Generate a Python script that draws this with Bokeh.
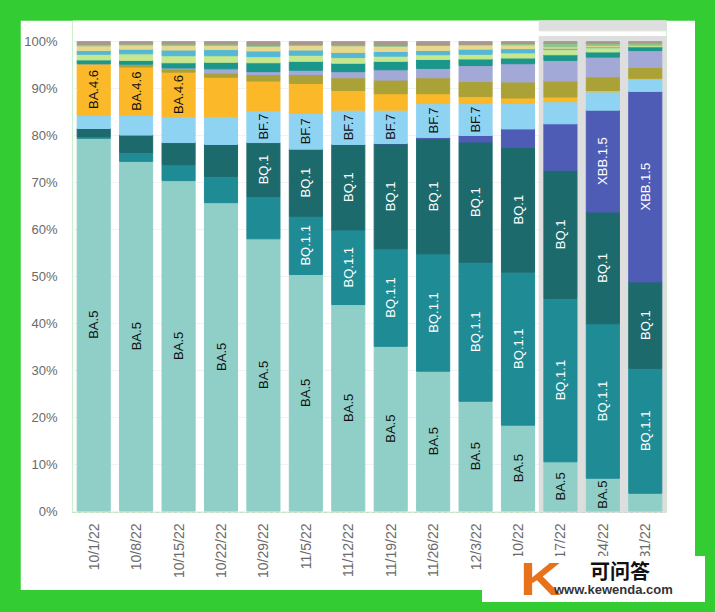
import numpy as np
from bokeh.plotting import figure
from bokeh.layouts import column
from bokeh.models import (ColumnDataSource, FactorRange, Range1d, Div,
                          FixedTicker, GlobalInlineStyleSheet)
from bokeh.core.properties import value
from bokeh.embed import file_html
from bokeh.resources import INLINE

weeks = ["10/1/22", "10/8/22", "10/15/22", "10/22/22", "10/29/22", "11/5/22", "11/12/22",
         "11/19/22", "11/26/22", "12/3/22", "12/10/22", "12/17/22", "12/24/22", "12/31/22"]

# lineage shares (%) per week, stacked bottom -> top
ba5    = [79.4, 74.5, 70.4, 65.7, 58.0, 50.4, 44.0, 35.1, 29.8, 23.4, 18.3, 10.5, 7.0, 3.8]
bq11   = [0.4, 1.9, 3.4, 5.6, 9.0, 12.4, 15.9, 20.8, 25.0, 29.6, 32.6, 34.8, 32.9, 26.6]
bq1    = [1.7, 3.7, 4.7, 6.8, 11.5, 14.3, 18.2, 22.3, 24.5, 25.6, 26.6, 27.3, 23.8, 18.4]
xbb15  = [0.0, 0.0, 0.0, 0.0, 0.0, 0.0, 0.0, 0.1, 0.3, 1.4, 3.9, 9.9, 21.7, 40.6]
bf7    = [2.8, 4.2, 5.5, 5.9, 6.8, 7.6, 7.3, 7.1, 7.2, 6.8, 5.4, 4.7, 3.9, 2.6]
ba46   = [11.0, 10.3, 9.5, 8.4, 6.3, 6.4, 4.2, 3.5, 2.1, 1.5, 1.2, 1.0, 0.3, 0.2]
bn1    = [0.0, 0.6, 0.7, 0.9, 1.4, 1.9, 2.7, 2.9, 3.4, 3.2, 3.4, 3.4, 2.9, 2.3]
xbb    = [0.0, 0.0, 0.2, 0.9, 0.6, 0.9, 1.3, 2.2, 2.0, 3.4, 3.9, 4.4, 4.2, 3.6]
ba275  = [0.8, 0.8, 1.1, 1.4, 1.9, 1.9, 1.8, 1.8, 1.9, 1.4, 1.2, 1.2, 1.1, 0.8]
ba2752 = [1.2, 1.4, 1.5, 1.4, 1.3, 1.3, 1.2, 1.1, 1.0, 1.0, 1.1, 1.1, 0.9, 0.3]
bf11   = [0.8, 1.0, 1.2, 1.3, 1.2, 1.1, 1.1, 1.0, 0.9, 1.1, 0.9, 0.3, 0.2, 0.1]
ba526  = [1.0, 0.9, 1.0, 0.9, 1.0, 1.0, 1.4, 1.1, 1.1, 0.9, 0.8, 0.3, 0.3, 0.1]
ch11   = [0.3, 0.2, 0.3, 0.3, 0.2, 0.2, 0.2, 0.2, 0.1, 0.1, 0.3, 0.7, 0.4, 0.3]
other  = [0.6, 0.5, 0.5, 0.5, 0.8, 0.6, 0.7, 0.8, 0.7, 0.6, 0.4, 0.4, 0.4, 0.3]

names = ["BA.5", "BQ.1.1", "BQ.1", "XBB.1.5", "BF.7", "BA.4.6", "BN.1", "XBB",
         "BA.2.75", "BA.2.75.2", "BF.11", "BA.5.2.6", "CH.1.1", "Other"]
series = [ba5, bq11, bq1, xbb15, bf7, ba46, bn1, xbb, ba275, ba2752, bf11, ba526, ch11, other]
colors = ["#8fcfc7", "#1f8b95", "#1d6a6c", "#4e5cb6", "#8fd3f2", "#fbb829", "#aaa237", "#a3a9d7",
          "#1a968a", "#c6e68f", "#54b8d4", "#e6d88c", "#8cc58c", "#a7998f"]

# which weeks carry an in-bar label
label_weeks = {
    "BA.5": weeks[:13],
    "BQ.1.1": weeks[5:],
    "BQ.1": weeks[4:],
    "XBB.1.5": weeks[12:],
    "BF.7": weeks[4:10],
    "BA.4.6": weeks[:3],
}
label_colors = {"BA.5": "#111111", "BQ.1.1": "white", "BQ.1": "white", "XBB.1.5": "white",
                "BF.7": "#111111", "BA.4.6": "#111111"}

yticks = [0, 10, 20, 30, 40, 50, 60, 70, 80, 90, 100]
highlight_weeks = weeks[11:]

data = {"week": weeks}
for n, s in zip(names, series):
    data[n] = s
source = ColumnDataSource(data)

fig = figure(x_range=FactorRange(*weeks), y_range=Range1d(-0.3, 104.5),
             width=675, height=570, output_backend="svg", toolbar_location=None,
             min_border_left=52, min_border_right=29, min_border_top=0, min_border_bottom=78,
             border_fill_color="white", background_fill_color="white", outline_line_color=None)

# highlighted last weeks
fig.vbar(x=highlight_weeks, top=101.1, bottom=-0.3, width=1.0, color="#dedede")
fig.vbar(x=highlight_weeks, top=104.5, bottom=102.3, width=1.0, color="#dedede")

fig.vbar_stack(names, x="week", width=0.78, color=colors, source=source)

# in-bar labels
cum = np.zeros(len(weeks))
lx, ly, lt, lc = [], [], [], []
for n, s in zip(names, series):
    s = np.array(s, dtype=float)
    if n in label_weeks:
        for i, w in enumerate(weeks):
            if w in label_weeks[n]:
                lx.append(w)
                ly.append(cum[i] + s[i] / 2.0)
                lt.append(n)
                lc.append(label_colors[n])
    cum = cum + s
lsrc = ColumnDataSource(dict(x=lx, y=ly, t=lt, c=lc))
fig.text(x="x", y="y", text="t", text_color="c", source=lsrc, angle=np.pi / 2,
         text_align="center", text_baseline="middle", text_font=value("Liberation Sans"),
         text_font_size="13px")

# axes
fig.yaxis.ticker = FixedTicker(ticks=yticks)
fig.yaxis.major_label_overrides = {t: f"{t}%" for t in yticks}
fig.yaxis.axis_line_color = None
fig.yaxis.major_tick_line_color = None
fig.yaxis.minor_tick_line_color = None
fig.yaxis.major_label_standoff = 9
fig.yaxis.major_label_text_font = "Liberation Sans"
fig.yaxis.major_label_text_font_size = "13px"
fig.yaxis.major_label_text_color = "#6a6a6a"

fig.xaxis.major_label_orientation = np.pi / 2
fig.xaxis.axis_line_color = "#cccccc"
fig.xaxis.axis_line_dash = "dotted"
fig.xaxis.major_tick_line_color = None
fig.xaxis.major_label_standoff = 5
fig.xaxis.major_label_text_font = "Liberation Sans"
fig.xaxis.major_label_text_font_size = "14px"
fig.xaxis.major_label_text_color = "#6a6a6a"

fig.xgrid.grid_line_color = None
fig.ygrid.grid_line_color = "#f2f2f2"
fig.ygrid.ticker = FixedTicker(ticks=yticks)

# watermark box (overlaps the bottom-right of the panel)
wm_html = (
    '<div style="position:relative;width:223px;height:46px;background:white;">'
    '<span style="position:absolute;left:38px;top:0px;font:bold 46px \'Liberation Sans\';'
    'color:#e8711c;line-height:1;transform:scaleX(1.25);transform-origin:left top;">K</span>'
    '<span style="position:absolute;left:108px;top:5px;font:bold 20px \'Noto Sans CJK SC\';'
    'color:#111;line-height:1;">可问答</span>'
    '<span style="position:absolute;left:72px;top:27px;font:bold 13px \'Liberation Sans\';'
    'color:#333;line-height:1;">www.kewenda.com</span>'
    '</div>'
)
wm = Div(text=wm_html, width=223, height=46, margin=(-34, 0, 0, 462),
         styles={"position": "relative", "z-index": "10"})

p = column(fig, wm, spacing=0)
p.stylesheets = [GlobalInlineStyleSheet(
    css="html, body { background: #33cc33 !important; } "
        "body { padding: 20px 0 0 20px !important; overflow: hidden; }")]

open("out.html", "w").write(file_html(p, INLINE))
